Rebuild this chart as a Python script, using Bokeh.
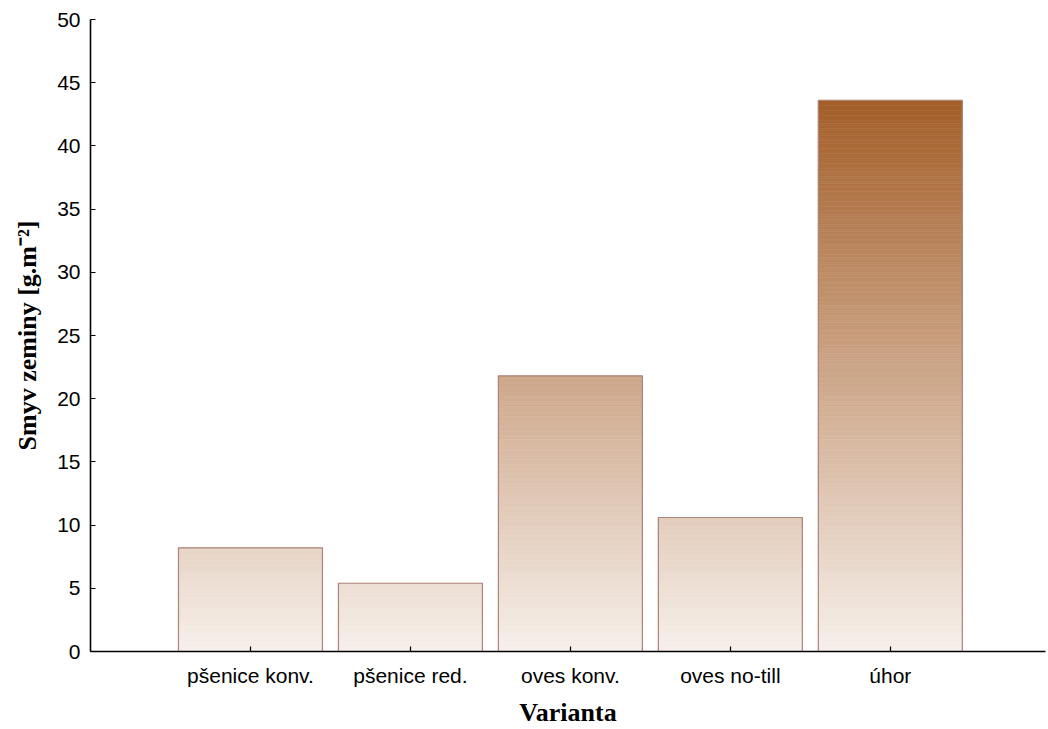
import numpy as np
from bokeh.plotting import figure
from bokeh.models import FixedTicker, Range1d
from bokeh.embed import file_html
from bokeh.resources import INLINE

categories = ["pšenice konv.", "pšenice red.", "oves konv.", "oves no-till", "úhor"]
values = [8.2, 5.4, 21.8, 10.6, 43.6]
y_ticks = [0, 5, 10, 15, 20, 25, 30, 35, 40, 45, 50]

bottom_rgb = np.array([247, 240, 235])
top_rgb = np.array([163, 94, 40])
vmax = max(values)

def shade(y):
    t = min(max(y / vmax, 0.0), 1.0)
    c = bottom_rgb + (top_rgb - bottom_rgb) * t
    return "#%02x%02x%02x" % tuple(int(round(v)) for v in c)

p = figure(width=1048, height=729, output_backend="svg", toolbar_location=None,
           x_range=Range1d(0, 5.97), y_range=Range1d(0, 50),
           min_border_left=90, min_border_right=3, min_border_top=19, min_border_bottom=78)

xs = list(range(1, len(categories) + 1))
half = 0.45
step = 0.2
L, R, B, T, C = [], [], [], [], []
for x, v in zip(xs, values):
    edges = np.arange(0, v, step)
    for b in edges:
        t = min(b + step, v)
        L.append(x - half); R.append(x + half); B.append(b); T.append(t)
        C.append(shade((b + t) / 2))
p.quad(left=L, right=R, bottom=B, top=T, fill_color=C, line_color=C, line_width=0.6)
p.quad(left=[x - half for x in xs], right=[x + half for x in xs],
       bottom=[0] * len(xs), top=values, fill_color=None,
       line_color="#b0827a", line_width=1.2)

p.xgrid.visible = False
p.ygrid.visible = False
p.outline_line_color = None
p.background_fill_color = "white"
p.border_fill_color = "white"

p.xaxis.ticker = FixedTicker(ticks=xs)
p.xaxis.major_label_overrides = {x: c for x, c in zip(xs, categories)}
p.yaxis.ticker = FixedTicker(ticks=y_ticks)

for ax in (p.xaxis, p.yaxis):
    ax.axis_line_color = "black"
    ax.axis_line_width = 1.6
    ax.major_tick_in = 5
    ax.major_tick_out = 0
    ax.major_tick_line_color = "black"
    ax.major_tick_line_width = 1.2
    ax.minor_tick_line_color = None
    ax.major_label_text_font = "Liberation Sans"
    ax.major_label_text_font_size = "21px"
    ax.major_label_text_color = "black"
    ax.axis_label_text_font = "Liberation Serif"
    ax.axis_label_text_font_style = "bold"
    ax.axis_label_text_font_size = "26px"
    ax.axis_label_text_color = "black"

p.xaxis.axis_label = "Varianta"
p.yaxis.axis_label = "Smyv zeminy [g.m⁻²]"
p.yaxis.major_label_standoff = 10
p.xaxis.major_label_standoff = 12
p.yaxis.axis_label_standoff = 12
p.xaxis.axis_label_standoff = 8

open("out.html", "w").write(file_html(p, INLINE))
